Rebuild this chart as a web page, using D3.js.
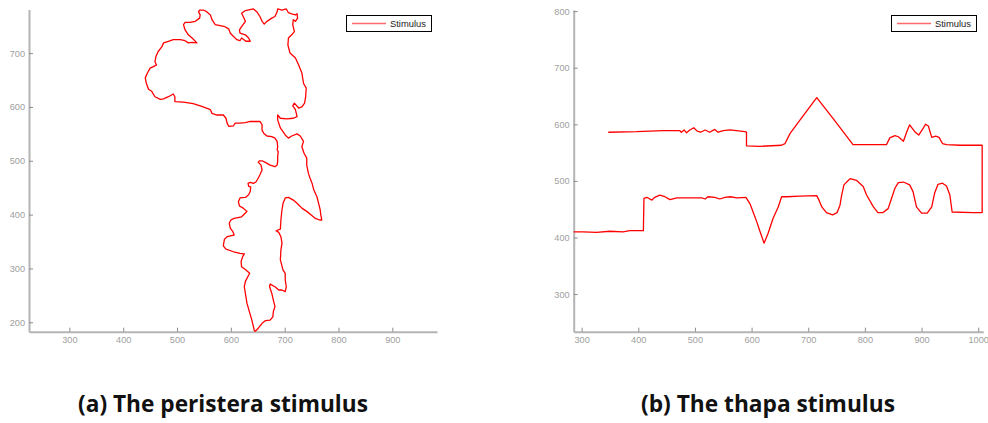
<!DOCTYPE html>
<html><head><meta charset="utf-8">
<script src="https://cdn.jsdelivr.net/npm/d3@7"></script>
<style>body{margin:0;background:#fff} svg{display:block}</style>
</head><body><svg id="c" width="988" height="423"></svg>
<script>
const peristeraX=[644,639,630,625,627,635,628,620,619,622,625,617,605,591,586,588,593,606,604,599,597,600,606,620,627,630,623,616,614,617,627,633,636,637,633,632,636,642,647,651,654,658,656,651,653,658,664,673,682,686,687,687,688,686,687,686,682,676,667,661,658,658,654,642,636,627,617,608,605,596,593,591,586,574,565,562,546,530,512,496,496,493,484,475,469,459,453,447,443,441,445,450,456,462,459,461,465,472,475,484,493,506,515,521,528,537,528,521,515,512,515,524,534,542,543,540,542,549,555,562,565,571,580,589,596,599,605,611,617,620,628,636,633,627,617,616,620,627,623,620,627,642,648,654,658,662,667,676,682,686,687,695,703,707,713,720,723,724,720,716,715,718,713,707,706,710,720,726,732,735,740,739,737,732,726,718,715,720,723,716,704,692,687,687,692,701,707,713,723,729,735,732,736,741,741,744,747,751,754,760,763,766,767,769,765,757,751,741,732,723,716,707,701,697,695,693,692,684,689,693,695,693,692,697,701,701,703,701,695,689,682,678,673,672,676,679,682,679,678,673,664,658,651,645];
const peristeraY=[183,204,235,266,276,291,297,303,313,322,327,328,331,336,342,354,359,362,368,375,384,390,393,396,403,406,412,416,424,431,432,437,443,451,453,458,460,458,461,468,474,483,492,497,500,500,497,492,489,492,499,508,517,520,526,536,542,545,546,551,557,567,573,573,573,571,570,570,565,564,570,579,585,585,588,595,601,606,609,610,619,624,619,615,614,619,629,633,644,654,663,672,675,678,684,694,703,712,719,722,725,725,723,719,720,719,728,734,743,753,757,757,759,765,771,777,780,780,777,771,762,753,751,749,745,737,731,725,723,728,722,722,728,734,737,743,749,759,768,774,779,782,777,768,759,754,759,765,768,777,782,780,782,775,773,771,773,765,759,762,753,740,734,728,715,700,691,678,663,644,635,619,607,600,598,607,602,595,582,579,578,579,585,576,561,548,542,546,550,546,536,526,514,505,492,477,468,458,446,433,421,409,400,390,390,393,398,406,412,421,427,432,431,421,409,390,373,370,367,359,347,334,316,297,291,279,266,257,260,260,266,268,271,266,254,241,229,220,210,204,203,198,189,183];
const thapaX=[279,303,326,350,373,385,409,410,415,424,429,438,447,456,468,485,512,518,523,535,544,553,562,574,590,597,603,609,615,622,629,638,647,653,662,685,715,719,724,732,743,751,756,759,763,771,774,785,797,803,815,823,832,841,847,853,859,868,879,885,891,900,910,918,923,929,937,944,950,954,991,1007,1007,968,944,937,931,925,918,912,907,901,895,888,879,874,868,859,853,844,838,803,779,744,715,685,668,659,653,615,591,591,588,562,550,541,535,526,518,510,504,498,491,485,481,476,473,444,397,347];
const thapaY=[410,410,409,411,410,412,412,469,471,466,471,475,472,467,470,470,470,468,472,471,468,471,472,470,471,460,444,428,410,390,407,434,454,472,472,473,474,466,454,444,440,444,457,475,493,501,504,501,490,475,454,444,444,451,469,487,497,498,493,481,454,443,443,454,478,494,496,491,475,445,444,444,563,563,564,566,577,579,577,597,600,590,581,587,599,587,570,578,580,576,564,564,564,610,647,607,584,566,563,561,562,586,587,590,589,586,591,586,590,586,588,594,590,585,590,586,589,589,587,586];
const leftXTicks=[300,400,500,600,700,800,900];
const leftYTicks=[200,300,400,500,600,700];
const rightXTicks=[300,400,500,600,700,800,900,1000];
const rightYTicks=[300,400,500,600,700,800];
const seriesName="Stimulus";
const captions=["(a) The peristera stimulus","(b) The thapa stimulus"];

const svg=d3.select("#c");
function panel(id,xs,ys,xd,xr,yd,yr,xt,yt,legX,capX,capW,capText){
  const x=d3.scaleLinear().domain(xd).range(xr);
  const y=d3.scaleLinear().domain(yd).range(yr);
  const g=svg.append("g");
  g.append("clipPath").attr("id","clip"+id).append("rect")
    .attr("x",xr[0]).attr("y",yr[1]-3).attr("width",xr[1]-xr[0]+3).attr("height",yr[0]-yr[1]+5);
  const xa=g.append("g").attr("transform",`translate(0,${yr[0]})`)
    .call(d3.axisBottom(x).tickValues(xt).tickSizeInner(-4).tickSizeOuter(0).tickPadding(5).tickFormat(d3.format("d")));
  const ya=g.append("g").attr("transform",`translate(${xr[0]},0)`)
    .call(d3.axisLeft(y).tickValues(yt).tickSizeInner(-4).tickSizeOuter(0).tickPadding(4).tickFormat(d3.format("d")));
  [xa,ya].forEach(a=>{
    a.select(".domain").attr("stroke","#b4b4b4").attr("stroke-width",2);
    a.selectAll(".tick line").attr("stroke","#8c8c8c").attr("stroke-width",1);
    a.selectAll(".tick text").attr("fill","#a0a0a0").attr("font-size","9.2px").attr("font-family","'Liberation Sans',Arial,sans-serif");
  });
  const pts=xs.map((v,i)=>[v,ys[i]]);
  g.append("path").datum(pts).attr("clip-path",`url(#clip${id})`)
    .attr("fill","none").attr("stroke","#ff0000").attr("stroke-width",1.3).attr("stroke-linejoin","round")
    .attr("d",d3.line().x(d=>x(d[0])).y(d=>y(d[1])));
  // legend
  const lg=g.append("g").attr("transform",`translate(${legX},15)`);
  lg.append("rect").attr("x",0.5).attr("y",0.5).attr("width",85).attr("height",16).attr("fill","#fff").attr("stroke","#000").attr("stroke-width",1);
  lg.append("line").attr("x1",6).attr("x2",40).attr("y1",8.5).attr("y2",8.5).attr("stroke","#ff6a6a").attr("stroke-width",1.4);
  lg.append("text").attr("x",44).attr("y",12).attr("font-size","9.4px").attr("fill","#222")
    .attr("font-family","'Liberation Sans',Arial,sans-serif").text(seriesName);
  // caption
  const t=svg.append("text").attr("x",capX).attr("y",412).attr("text-anchor","middle")
    .attr("font-family","'Open Sans','Noto Sans',sans-serif").attr("font-weight","bold").attr("font-size","20px")
    .attr("fill","#111").text(capText);
  const w=t.node().getComputedTextLength();
  t.attr("font-size",(20*capW/w).toFixed(2)+"px");
}
panel("a",peristeraX,peristeraY,[225,983],[29,437],[182.5,781],[331.7,9.5],leftXTicks,leftYTicks,346,223,290,captions[0]);
panel("b",thapaX,thapaY,[286,1009],[573.7,983.3],[233.5,802],[331.7,10],rightXTicks,rightYTicks,891,768,254,captions[1]);
</script></body></html>
